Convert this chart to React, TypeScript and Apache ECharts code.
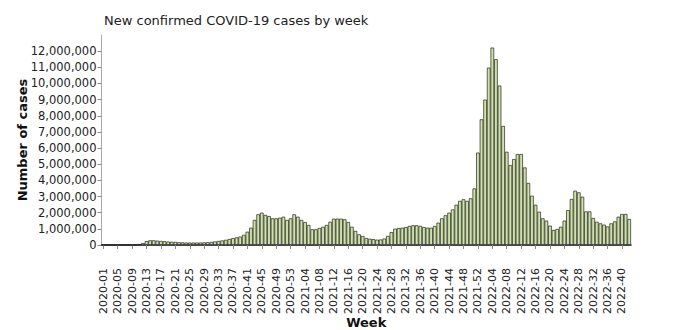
import React, { useEffect, useRef } from "react";
import * as echarts from "echarts";

// ISO weeks per year covered by the chart
const years = [2020, 2021, 2022];
const weeksPerYear = [53, 52, 42];

// New confirmed cases per week, in thousands
const casesThousands = [
  // 2020
  0, 0, 0, 0, 0.1, 0.2, 0.3, 0.5, 2, 10,
  40, 120, 240, 290, 290, 270, 250, 230, 210, 200,
  190, 170, 160, 150, 150, 150, 150, 150, 160, 170,
  190, 220, 250, 280, 320, 370, 420, 470, 520, 630,
  820, 1070, 1550, 1900, 2000, 1860, 1790, 1650, 1650, 1690,
  1750, 1550, 1650,
  // 2021
  1900, 1750, 1550, 1420, 1240, 970, 970, 1050, 1130, 1240,
  1440, 1630, 1630, 1630, 1590, 1420, 1130, 870, 660, 560,
  430, 390, 360, 330, 340, 400, 560, 800, 1010, 1050,
  1070, 1110, 1180, 1220, 1220, 1180, 1110, 1070, 1070, 1180,
  1380, 1650, 1840, 2000, 2200, 2490, 2730, 2830, 2730, 2890,
  3500, 5720,
  // 2022
  7780, 9000, 10980, 12220, 11500, 9870, 7370, 5770, 4950, 5320,
  5630, 5630, 4800, 3840, 3050, 2490, 2060, 1650, 1510, 1200,
  930, 990, 1130, 1510, 2160, 2850, 3360, 3260, 2990, 2080,
  2080, 1670, 1440, 1340, 1260, 1150, 1340, 1460, 1750, 1920,
  1920, 1610,
];

// y-axis tick values (0 .. 12,000,000)
const yTicks = [0, 1, 2, 3, 4, 5, 6, 7, 8, 9, 10, 11, 12].map((m) => m * 1000000);

const weeks: string[] = [];
years.forEach((y, k) => {
  for (let w = 1; w <= weeksPerYear[k]; w++) {
    weeks.push(`${y}-${String(w).padStart(2, "0")}`);
  }
});

const FONT = "DejaVu Sans";

export default function App() {
  const ref = useRef<HTMLDivElement>(null);
  useEffect(() => {
    if (!ref.current) return;
    const chart = echarts.init(ref.current, undefined, { renderer: "svg" });
    chart.setOption({
      animation: false,
      backgroundColor: "#ffffff",
      title: {
        text: "New confirmed COVID-19 cases by week",
        left: 99,
        top: 9,
        textStyle: { fontFamily: FONT, fontSize: 13, fontWeight: "normal", color: "#222" },
      },
      grid: {
        left: 101.5,
        right: 49,
        top: 35,
        bottom: 85,
        containLabel: false,
        outerBoundsMode: "none",
      },
      xAxis: [
        {
          type: "category",
          data: weeks,
          position: "bottom",
          offset: 17,
          axisLine: { show: false },
          axisTick: {
            show: true,
            interval: 3,
            alignWithLabel: true,
            length: 4,
            lineStyle: { color: "#888" },
          },
          axisLabel: {
            interval: 3,
            rotate: 90,
            margin: 6,
            fontFamily: FONT,
            fontSize: 11,
            color: "#222",
          },
          name: "Week",
          nameLocation: "middle",
          nameGap: 54,
          nameMoveOverlap: false,
          nameTextStyle: { fontFamily: FONT, fontSize: 13, fontWeight: "bold", color: "#111" },
        },
        {
          type: "category",
          data: weeks,
          position: "bottom",
          offset: 0,
          axisLine: { show: true, lineStyle: { color: "#111", width: 1.5 } },
          axisTick: { show: false },
          axisLabel: { show: false },
        },
      ],
      yAxis: {
        type: "value",
        min: 0,
        max: 13000000,
        interval: 1000000,
        axisLine: { show: true, lineStyle: { color: "#aaa" } },
        axisTick: { show: true, length: 4, lineStyle: { color: "#888" }, customValues: yTicks },
        splitLine: { show: false },
        axisLabel: {
          customValues: yTicks,
          margin: 5,
          fontFamily: FONT,
          fontSize: 11.5,
          color: "#222",
          formatter: (v: number) => v.toLocaleString("en-US"),
        },
        name: "Number of cases",
        nameLocation: "middle",
        nameGap: 73,
        nameRotate: 90,
        nameMoveOverlap: false,
        nameTextStyle: { fontFamily: FONT, fontSize: 13, fontWeight: "bold", color: "#111" },
      },
      series: [
        {
          type: "bar",
          xAxisIndex: 0,
          data: casesThousands.map((v) => v * 1000),
          barCategoryGap: "0%",
          itemStyle: { color: "#d0e3a6", borderColor: "#222", borderWidth: 0.7 },
        },
      ],
    });
    return () => chart.dispose();
  }, []);
  return (
    <div
      ref={ref}
      style={{ position: "fixed", left: 0, top: 0, width: 680, height: 330 }}
    />
  );
}
